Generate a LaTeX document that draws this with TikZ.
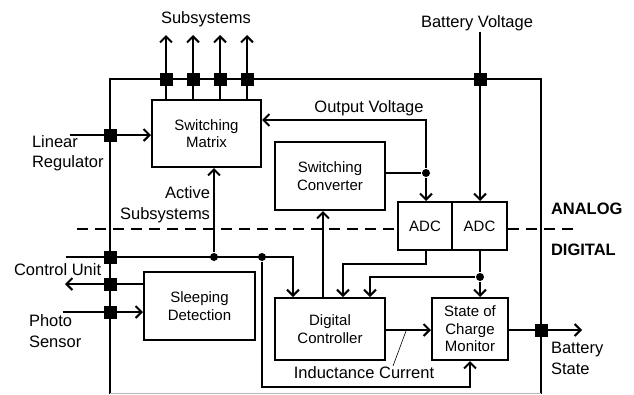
\documentclass[tikz,border=0pt]{standalone}
\usepackage{fontspec}
\setmainfont{Liberation Sans}
\usetikzlibrary{arrows.meta,calc}
\begin{document}
\begin{tikzpicture}[x=1pt,y=-1pt, line width=2pt,
 blk/.style={draw, fill=white, inner sep=0pt, align=center, font=\fontsize{15}{17.5}\selectfont},
 port/.style={fill=black, minimum size=13pt, inner sep=0pt},
 jdot/.style={circle, fill=black, minimum size=8pt, inner sep=0pt},
 lbl/.style={font=\fontsize{16.5}{20.5}\selectfont, inner sep=0pt},
 blbl/.style={font=\fontsize{16.5}{20.5}\selectfont\bfseries, inner sep=0pt, anchor=west},
 arr/.style={-{Straight Barb[length=6pt,width=12pt]}},
 ]
\useasboundingbox (0,0) rectangle (634,394);
% blocks
\node[blk, minimum width=109pt, minimum height=67pt] (mat) at (206.5,133.5) {Switching\\Matrix};
\node[blk, minimum width=110pt, minimum height=68pt] (conv) at (330,176) {Switching\\Converter};
\node[blk, minimum width=54pt, minimum height=48pt] (adcA) at (425,226) {ADC};
\node[blk, minimum width=55pt, minimum height=48pt] (adcB) at (479.5,226) {ADC};
\node[blk, minimum width=110pt, minimum height=62pt] (dc) at (330,329) {Digital\\Controller};
\node[blk, minimum width=76pt, minimum height=62pt] (soc) at (470,329) {State of\\Charge\\Monitor};
\node[blk, minimum width=111pt, minimum height=68pt] (sleep) at (199.5,306) {Sleeping\\Detection};
% analog/digital divider
\coordinate (dl) at (77,229);
\coordinate (dr) at (575,229);
\draw[dash pattern=on 11pt off 7pt] (dl) -- (dl -| adcA.west);
\draw[dash pattern=on 11pt off 7pt] (adcB.east |- dr) -- (dr);
% outer frame
\draw (110,394) -- (110,79) -- (541,79) -- (541,394);
\draw[gray!55, line width=0.8pt] (110,393.4) -- (541,393.4);
% ports
\foreach \i/\x in {1/166,2/193,3/220,4/247} \node[port] (s\i) at (\x,79) {};
\node[port] (sbat) at (480,79) {};
\node[port] (slin) at (110,135) {};
\node[port] (sctl) at (110,257) {};
\node[port] (sout) at (110,284) {};
\node[port] (sph) at (110,312) {};
\node[port] (sbs) at (541,330) {};
% dots
\node[jdot] (dov) at (426,173) {};
\node[jdot] (dact) at (214,257) {};
\node[jdot] (dfb) at (262,257) {};
\node[jdot] (dadc) at (480,277) {};
% subsystems outputs
\foreach \i/\x in {1/166,2/193,3/220,4/247} {
  \coordinate (t\i) at (\x,35);
  \draw[arr] (mat.north -| s\i) -- (t\i);
}
% battery voltage
\coordinate (bv) at (480,32);
\draw[arr] (bv) -- (adcB.north -| bv);
% linear regulator
\coordinate (lr) at (70,135);
\draw[arr] (lr) -- (lr -| mat.west);
% output voltage
\draw (conv.east |- dov) -- (dov);
\draw[arr] (dov) -- (dov |- adcA.north);
\coordinate (ovk) at (426,120);
\draw[arr] (dov) -- (ovk) -- (ovk -| mat.east);
% active subsystems
\draw[arr] (dact) -- (dact |- mat.south);
% control unit line
\coordinate (cu) at (66,257);
\coordinate (ck) at (293,257);
\draw[arr] (cu) -- (ck) -- (ck |- dc.north);
% controller -> converter
\coordinate (cvx) at (323,0);
\draw[arr] (dc.north -| cvx) -- (conv.south -| cvx);
% sleeping detection
\coordinate (cuo) at (65,284);
\draw[arr] (sleep.west |- cuo) -- (cuo);
\coordinate (ps) at (63,312);
\draw[arr] (ps) -- (ps -| sleep.west);
% ADC1 -> controller
\coordinate (a1) at (426,264);
\coordinate (a1b) at (343,264);
\draw[arr] (adcA.south -| a1) -- (a1) -- (a1b) -- (a1b |- dc.north);
% ADC2 -> SoC and controller
\draw (adcB.south -| dadc) -- (dadc);
\draw[arr] (dadc) -- (dadc |- soc.north);
\coordinate (a2b) at (370,277);
\draw[arr] (dadc) -- (a2b) -- (a2b |- dc.north);
% inductance current
\coordinate (ic) at (0,330);
\draw[arr] (dc.east |- ic) -- (soc.west |- ic);
% battery state
\coordinate (bs) at (582,330);
\draw[arr] (soc.east |- bs) -- (bs);
% feedback
\coordinate (fb) at (262,387);
\coordinate (fb2) at (470,387);
\draw[arr] (dfb) -- (fb) -- (fb2) -- (soc.south);
% labels
\node[lbl] (lsub) at (206,19) {Subsystems};
\node[lbl] (lbat) at (477,23) {Battery Voltage};
\node[lbl, align=left, anchor=west] (llin) at (31,153) {Linear\\Regulator};
\node[lbl] (lov) at (369,108) {Output Voltage};
\node[lbl, align=right, anchor=east] (lact) at (211,204.5) {Active\\Subsystems};
\node[blbl] (lan) at (550,209) {ANALOG};
\node[blbl] (ldig) at (550,250) {DIGITAL};
\node[lbl, anchor=west] (lcu) at (13,270) {Control Unit};
\node[lbl, align=left, anchor=west] (lph) at (28,331) {Photo\\Sensor};
\node[lbl, align=left, anchor=west] (lbs) at (550,358.5) {Battery\\State};
\node[lbl] (lic) at (364,373) {Inductance Current};
\coordinate (icp) at (406,331);
\draw[line width=0.6pt] (393,366) -- (icp);
\end{tikzpicture}
\end{document}
